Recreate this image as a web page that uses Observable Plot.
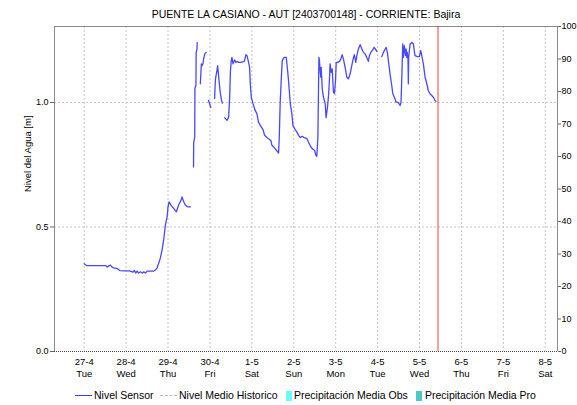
<!DOCTYPE html>
<html>
<head>
<meta charset="utf-8">
<script src="https://cdn.jsdelivr.net/npm/d3@7"></script>
<script src="https://cdn.jsdelivr.net/npm/@observablehq/plot@0.6"></script>
<style>
  body { margin: 0; background: #fff; font-family: "Liberation Sans", Arial, sans-serif; }
  #wrap { width: 577px; }
  #legend { position: relative; width: 577px; height: 25px; font-size: 10.5px; color: #000; }
  #legend .it { position: absolute; top: 9px; line-height: 13px; white-space: nowrap; }
  #legend .sw { position: absolute; }
</style>
</head>
<body>
<div id="wrap"></div>
<script>
const title = "PUENTE LA CASIANO - AUT [2403700148] - CORRIENTE: Bajira";
const yLabel = "Nivel del Agua [m]";
const dayLabels = ["27-4","28-4","29-4","30-4","1-5","2-5","3-5","4-5","5-5","6-5","7-5","8-5"];
const weekdayLabels = ["Tue","Wed","Thu","Fri","Sat","Sun","Mon","Tue","Wed","Thu","Fri","Sat"];
const leftTicks = [0, 0.5, 1.0];
const rightTicks = [0,10,20,30,40,50,60,70,80,90,100];
const legendNames = ["Nivel Sensor","Nivel Medio Historico","Precipitación Media Obs","Precipitación Media Pro"];

// hours since 2021-04-27 00:00 and water level [m]; null = missing data (gap)
const hours = [0,1.3,12.2,13.2,14.1,15.0,16.0,16.9,18.9,20.4,23.6,25.9,28.0,28.8,29.5,30.3,31.2,32.2,33.3,34.1,35.1,36.0,37.9,39.8,40.9,41.7,42.7,43.6,44.6,45.5,46.5,47.5,48.0,48.6,49.7,51.2,52.8,54.1,55.5,56.0,57.0,57.9,59.2,60.8,61.7,
62.6,62.7,63.3,63.4,64.0,64.1,64.6,64.7,65.6,
66.5,67.1,67.5,68.0,68.4,69.0,69.9,70.5,
71.2,72.5,73.6,
74.7,74.9,75.2,76.0,76.4,76.8,77.2,77.9,78.5,79.1,79.7,
80.4,81.8,82.7,83.3,83.7,84.2,84.6,85.2,86.1,86.9,87.5,88.4,89.4,90.7,91.7,92.6,93.2,93.9,94.7,95.1,95.7,96.6,97.9,98.9,99.8,100.8,102.4,103.3,104.6,106.1,106.9,107.5,108.8,110.4,111.3,111.7,112.2,112.8,113.4,114.5,115.7,116.1,117.0,118.0,118.9,119.5,120.8,121.8,122.7,123.7,124.7,126.0,127.5,128.4,129.8,130.9,131.9,132.7,133.2,133.8,134.1,134.4,134.7,135.1,135.5,135.7,136.3,137.0,138.0,138.5,139.3,139.9,140.4,140.8,141.4,142.0,142.7,143.3,143.9,144.3,145.2,146.2,147.0,147.7,148.4,149.4,150.4,151.3,152.3,153.2,154.2,154.7,155.5,156.1,157.0,158.0,159.0,159.9,160.8,161.8,162.7,163.3,164.1,165.2,166.0,166.7,167.5,169.0,
170.4,171.3,172.9,173.6,174.4,175.1,176.1,176.7,177.6,178.6,179.5,180.9,181.4,181.8,182.4,182.7,183.3,183.9,184.3,184.7,185.0,185.4,185.6,185.8,186.2,186.6,187.6,188.5,189.0,189.4,190.8,191.9,192.7,193.3,194.2,195.2,196.2,197.0,198.0,199.0,199.9,200.9,201.4];
const level = [0.352,0.345,0.345,0.339,0.344,0.347,0.339,0.336,0.333,0.325,0.324,0.324,0.319,0.325,0.315,0.323,0.315,0.320,0.315,0.320,0.315,0.323,0.323,0.323,0.328,0.335,0.355,0.375,0.408,0.448,0.508,0.541,0.581,0.601,0.588,0.575,0.561,0.588,0.608,0.621,0.601,0.588,0.581,0.581,null,
0.741,0.840,0.860,1.055,1.070,1.201,1.215,1.241,null,
1.075,1.155,1.148,1.155,1.175,1.195,1.201,null,
1.008,0.980,null,
1.016,1.056,1.096,1.128,1.148,1.120,1.088,1.040,1.013,0.997,null,
0.939,0.928,0.941,1.021,1.121,1.168,1.181,1.155,1.171,1.161,1.165,1.161,1.161,1.163,1.165,1.192,1.188,1.168,1.141,1.075,1.021,0.996,0.968,0.955,0.921,0.908,0.891,0.868,0.859,0.851,0.848,0.828,0.819,0.805,0.797,0.861,0.995,1.088,1.168,1.181,1.181,1.155,1.088,0.995,0.955,0.908,0.891,0.881,0.868,0.859,0.864,0.859,0.855,0.841,0.821,0.812,0.808,0.788,0.784,0.861,1.021,1.181,1.168,1.128,1.101,1.141,1.055,1.021,0.995,0.939,0.981,1.028,1.088,1.155,1.121,1.135,1.041,1.035,1.088,1.161,1.161,1.165,1.175,1.192,1.175,1.141,1.101,1.095,1.115,1.148,1.181,1.192,1.161,1.188,1.215,1.232,1.215,1.201,1.195,1.181,1.165,1.188,1.201,1.211,1.221,1.215,1.205,null,
1.184,1.201,1.221,1.201,1.155,1.115,1.068,1.035,1.021,1.001,1.001,0.988,1.001,1.088,1.235,1.181,1.228,1.188,1.215,1.181,1.201,1.175,1.075,1.181,1.208,1.235,1.241,1.235,1.208,1.188,1.184,1.184,1.208,1.188,1.155,1.101,1.075,1.048,1.035,1.028,1.021,1.008,1.005];

const nowTime = "2021-05-05T10:35Z";
const xStart = "2021-04-26T07:00Z";
const xEnd = "2021-05-08T07:00Z";
const yMax = 1.305;

const base = Date.UTC(2021, 3, 27);
const data = hours.map((h, i) => ({t: new Date(base + h * 3600e3), v: level[i]}));
const dayTicks = dayLabels.map((_, i) => new Date(base + i * 86400e3));
const tickText = new Map(dayTicks.map((d, i) => [+d, dayLabels[i] + "\n" + weekdayLabels[i]]));

const x0 = new Date(xStart), x1 = new Date(xEnd);
const grid = {stroke: "#c4c4c4", strokeOpacity: 1, strokeDasharray: "2,2"};
const rightPos = rightTicks.map(v => v / 100 * yMax);

const chart = Plot.plot({
  width: 577,
  height: 380,
  marginLeft: 54,
  marginRight: 20,
  marginTop: 26,
  marginBottom: 29,
  style: {fontFamily: "'Liberation Sans', Arial, sans-serif", fontSize: "9.5px", color: "#000", background: "#fff"},
  x: {type: "utc", domain: [x0, x1]},
  y: {domain: [0, yMax]},
  marks: [
    Plot.gridX(dayTicks, grid),
    Plot.gridY([0.5, 1.0], grid),
    Plot.ruleX([x0], {stroke: "#8a8a8a"}),
    Plot.ruleX([x1], {stroke: "#8a8a8a"}),
    Plot.ruleY([yMax], {stroke: "#8a8a8a"}),
    Plot.ruleY([0], {stroke: "#444", strokeDasharray: "1,1"}),
    Plot.axisX(dayTicks, {tickSize: 0, tickPadding: 5, tickFormat: d => tickText.get(+d), label: null, fontSize: 9.5, lineHeight: 1.25}),
    Plot.axisY(leftTicks, {anchor: "left", tickSize: 4, tickPadding: 2, tickFormat: d3.format(".1f"), label: null, stroke: "#666", fontSize: 9}),
    Plot.axisY(rightPos, {anchor: "right", tickSize: 3, tickPadding: 1, tickFormat: (d, i) => String(rightTicks[i]), label: null, stroke: "#666", fontSize: 9}),
    Plot.text([yLabel], {frameAnchor: "left", dx: -27, dy: 3, rotate: -90, fontSize: 9.5, fill: "#000"}),
    Plot.text([title], {frameAnchor: "top", dy: -15.5, fontSize: 10.5, fill: "#000"}),
    Plot.line(data, {x: "t", y: "v", stroke: "#4848ff", strokeWidth: 1.3}),
    Plot.ruleX([new Date(nowTime)], {stroke: "#ff3c3c", strokeWidth: 1})
  ]
});
document.getElementById("wrap").appendChild(chart);

const legend = document.createElement("div");
legend.id = "legend";
const items = [
  {x: 75, w: 17, type: "line", color: "#3a3aff", tx: 94},
  {x: 160, w: 17, type: "dash", color: "#b8b8b8", tx: 179},
  {x: 286, w: 6, type: "box", color: "#66ffff", tx: 294},
  {x: 416, w: 6, type: "box", color: "#4cc8c8", tx: 425}
];
items.forEach((it, i) => {
  const sw = document.createElement("div");
  sw.className = "sw";
  sw.style.left = it.x + "px";
  sw.style.width = it.w + "px";
  if (it.type === "line") { sw.style.top = "15px"; sw.style.height = "0"; sw.style.borderTop = "1.5px solid " + it.color; }
  else if (it.type === "dash") { sw.style.top = "15px"; sw.style.height = "0"; sw.style.borderTop = "1px dashed " + it.color; }
  else { sw.style.top = "11px"; sw.style.height = "10px"; sw.style.background = it.color; }
  legend.appendChild(sw);
  const t = document.createElement("div");
  t.className = "it";
  t.style.left = it.tx + "px";
  t.textContent = legendNames[i];
  legend.appendChild(t);
});
document.getElementById("wrap").appendChild(legend);
</script>
</body>
</html>
